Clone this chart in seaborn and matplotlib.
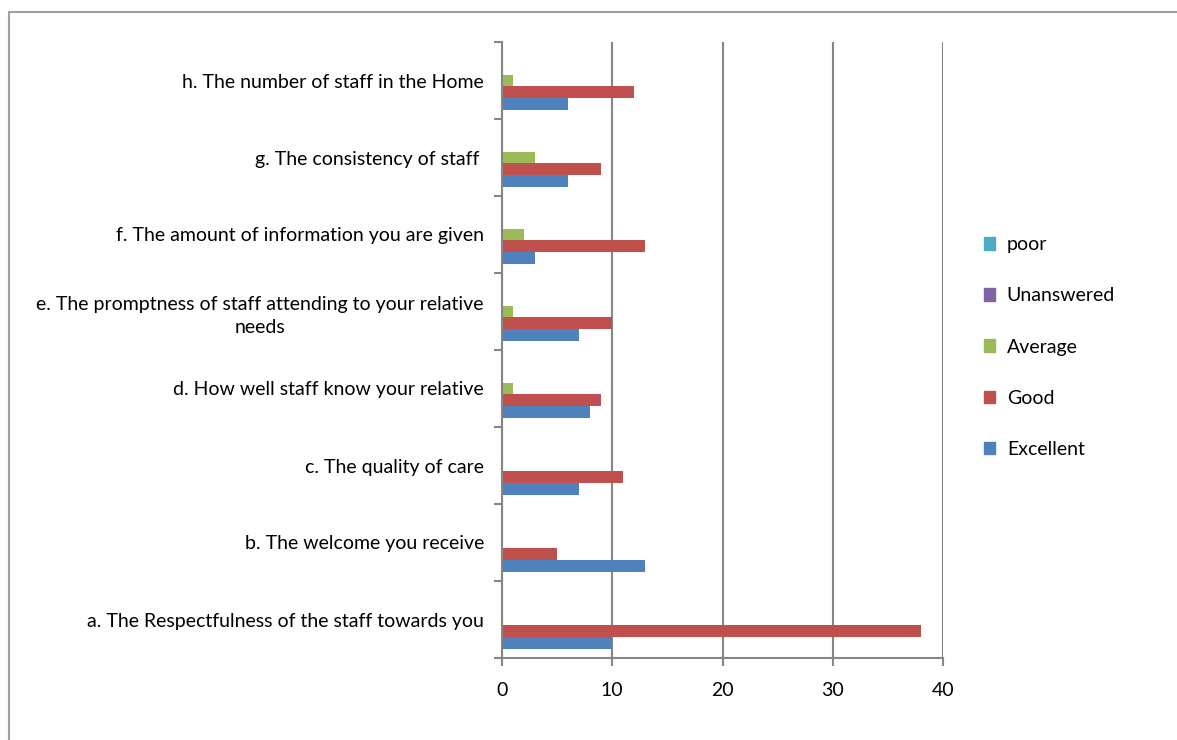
import matplotlib.pyplot as plt
import matplotlib.patches as mpatches
import pandas as pd
import seaborn as sns

questions = [
    "h. The number of staff in the Home",
    "g. The consistency of staff ",
    "f. The amount of information you are given",
    "e. The promptness of staff attending to your relative\nneeds",
    "d. How well staff know your relative",
    "c. The quality of care",
    "b. The welcome you receive",
    "a. The Respectfulness of the staff towards you",
]
excellent = [6, 6, 3, 7, 8, 7, 13, 10]
good = [12, 9, 13, 10, 9, 11, 5, 38]
average = [1, 3, 2, 1, 1, 0, 0, 0]
unanswered = [0, 0, 0, 0, 0, 0, 0, 0]
poor = [0, 0, 0, 0, 0, 0, 0, 0]

series_names = ["poor", "Unanswered", "Average", "Good", "Excellent"]
series_colors = ["#4BACC6", "#8064A2", "#9BBB59", "#C0504D", "#4F81BD"]
x_ticks = [0, 10, 20, 30, 40]

GRID = "#868686"


def build_frame():
    rows = []
    for name, values in zip(series_names, [poor, unanswered, average, good, excellent]):
        for q, v in zip(questions, values):
            rows.append({"question": q, "rating": name, "count": v})
    return pd.DataFrame(rows)


def main():
    df = build_frame()
    plt.rcParams["font.family"] = ["Lato", "DejaVu Sans"]

    fig = plt.figure(figsize=(11.77, 7.40), dpi=100)
    # outer chart frame (cut off at right / bottom like the original)
    fig.patches.append(mpatches.Rectangle(
        (9 / 1177, -0.05), 1.2, 1 - 12 / 740 + 0.05, transform=fig.transFigure,
        fill=False, edgecolor="#A0A0A0", linewidth=1.5))

    ax = fig.add_axes([502 / 1177, 1 - 658 / 740, (943 - 502) / 1177, (658 - 42) / 740])
    sns.barplot(
        data=df, y="question", x="count", hue="rating",
        order=questions, hue_order=series_names,
        palette=series_colors, saturation=1, orient="h", width=5 / 6.5,
        linewidth=0, ax=ax, legend=False,
    )

    ax.set_xlim(0, 40)
    ax.set_xticks(x_ticks)
    ax.set_ylim(len(questions) - 0.5, -0.5)
    ax.set_xlabel("")
    ax.set_ylabel("")

    ax.grid(axis="x", color=GRID, linewidth=1.5)
    ax.set_axisbelow(True)
    for side in ["top", "right"]:
        ax.spines[side].set_visible(False)
    for side in ["left", "bottom"]:
        ax.spines[side].set_color(GRID)
        ax.spines[side].set_linewidth(1.5)

    ax.set_yticks([i - 0.5 for i in range(len(questions) + 1)], minor=True)
    ax.tick_params(axis="y", which="major", length=0, pad=13, labelsize=14)
    ax.tick_params(axis="y", which="minor", length=6, width=1.5, color=GRID)
    ax.tick_params(axis="x", length=6, width=1.5, color=GRID, pad=11, labelsize=14)
    for lab in ax.get_yticklabels():
        lab.set_multialignment("center")
        lab.set_linespacing(1.45)

    handles = [mpatches.Patch(color=c, label=n) for n, c in zip(series_names, series_colors)]
    fig.legend(
        handles=handles, loc="center left", bbox_to_anchor=(966 / 1177, 1 - 347 / 740),
        frameon=False, fontsize=14, handlelength=0.6, handleheight=0.6,
        handletextpad=0.6, labelspacing=1.75,
    )

    fig.savefig("out.png", dpi=100)
    plt.close(fig)


if __name__ == "__main__":
    main()
